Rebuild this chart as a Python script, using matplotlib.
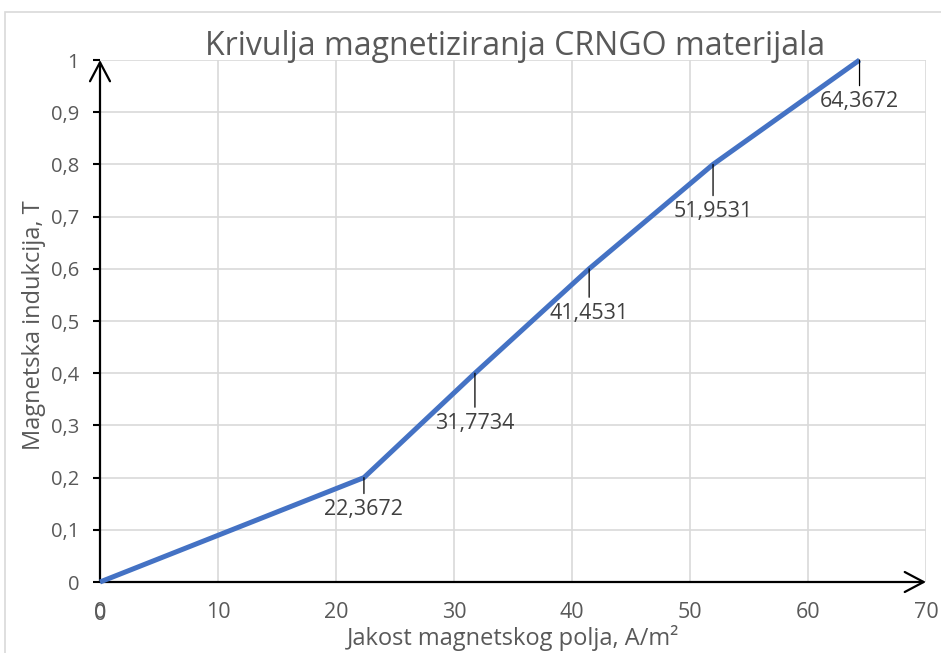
import matplotlib
matplotlib.use('Agg')
import matplotlib.pyplot as plt
from matplotlib.patches import Rectangle
from matplotlib.ticker import FuncFormatter

plt.rcParams['font.family'] = ['Open Sans', 'DejaVu Sans']

# podaci: jakost polja H (A/m^2) i indukcija B (T)
H = [0, 22.3672, 31.7734, 41.4531, 51.9531, 64.3672]
B = [0, 0.2, 0.4, 0.6, 0.8, 1.0]
labeled = [1, 2, 3, 4, 5]
label_drop = [27, 40, 36, 38, 34]  # pomak natpisa ispod tocke (pt)

title = 'Krivulja magnetiziranja CRNGO materijala'
xlabel = 'Jakost magnetskog polja, A/m²'
ylabel = 'Magnetska indukcija, T'

grey = '#595959'
dark = '#404040'

fig = plt.figure(figsize=(9.41, 6.53), dpi=100)
ax = fig.add_axes([100/941, 1-582/653, 826/941, 522/653])

# okvir grafikona
fig.patches.append(Rectangle((5/941, -0.1), 1.2, 1-12/653+0.1, transform=fig.transFigure,
                             fill=False, edgecolor='#D9D9D9', lw=1.2))

ax.set_xlim(0, 70)
ax.set_ylim(0, 1)
ax.set_xticks(range(0, 71, 10))
ax.set_yticks([i/10 for i in range(11)])
ax.grid(True, color='#D9D9D9', lw=1.2)
ax.set_axisbelow(True)
for s in ax.spines.values():
    s.set_visible(False)

comma = FuncFormatter(lambda v, p: ('%g' % round(v, 2)).replace('.', ','))
ax.xaxis.set_major_formatter(comma)
ax.yaxis.set_major_formatter(comma)
ax.tick_params(axis='y', length=5, width=1.5, color='black', labelsize=14.5, labelcolor=grey, pad=10)
ax.tick_params(axis='x', which='major', length=0, labelsize=15.5, labelcolor=grey, pad=14.5)
ax.set_xticks([0], minor=True)
ax.tick_params(axis='x', which='minor', length=11, width=1.5, color='black')

# strelice osi
arr = dict(arrowstyle='->,head_length=0.68,head_width=0.36', lw=1.6, color='black',
           shrinkA=0, shrinkB=0, mutation_scale=20)
ax.annotate('', xy=(1, 0), xytext=(0, 0), xycoords='axes fraction', arrowprops=arr, annotation_clip=False)
ax.annotate('', xy=(0, 1), xytext=(0, 0), xycoords='axes fraction', arrowprops=arr, annotation_clip=False)

ax.plot(H, B, color='#4472C4', lw=3.6, clip_on=False, zorder=5, solid_capstyle='butt')

for i, d in zip(labeled, label_drop):
    ax.annotate(('%.4f' % H[i]).replace('.', ','), xy=(H[i], B[i]), xytext=(0, -d),
                textcoords='offset points', ha='center', va='baseline', fontsize=15.5, color=dark,
                arrowprops=dict(arrowstyle='-', color='black', lw=0.9, shrinkA=2, shrinkB=0),
                annotation_clip=False, zorder=6)

# dvostruka nula na ishodistu
ax.annotate('0', xy=(0, 0), xytext=(0, -16), textcoords='offset points', ha='center',
            va='top', fontsize=15.5, color=grey)

fig.text(515/941, 1-55/653, title, ha='center', va='baseline', fontsize=23, color=grey)
fig.text(513/941, 1-645/653, xlabel, ha='center', va='baseline', fontsize=17, color=grey)
fig.text(40/941, 1-325/653, ylabel, ha='center', va='baseline', rotation=90,
         rotation_mode='anchor', fontsize=17, color=grey)

fig.savefig('out.png', dpi=100)
